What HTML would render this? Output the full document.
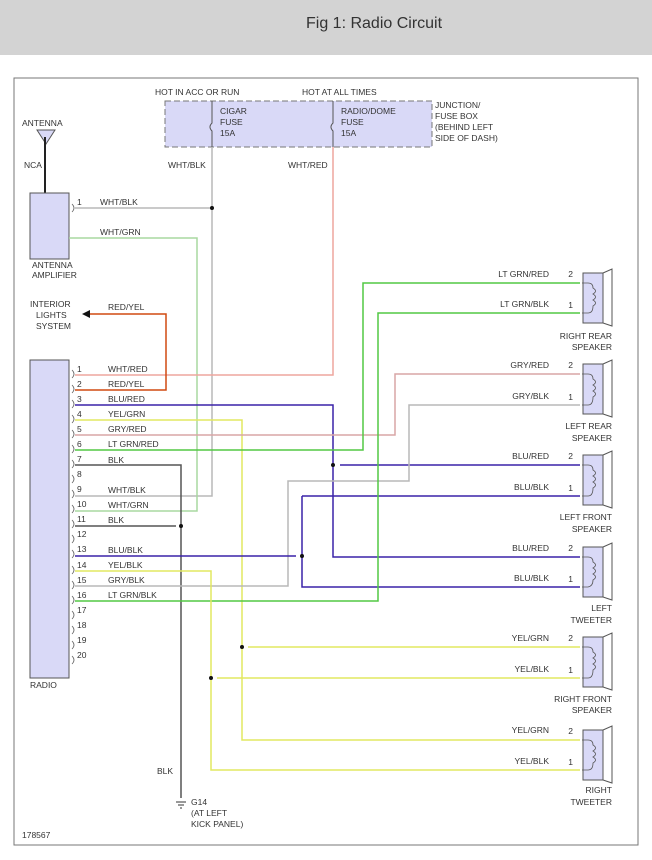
<!DOCTYPE html>
<html><head><meta charset="utf-8"><style>
body{margin:0;background:#fff;width:652px;height:860px;overflow:hidden;font-family:"Liberation Sans",sans-serif}
.hd{position:absolute;left:0;top:0;width:652px;height:55px;background:#d3d3d3}
.hd span{position:absolute;left:306px;top:15px;font-size:16px;color:#333}
svg{position:absolute;left:0;top:0}
text{font-family:"Liberation Sans",sans-serif;font-size:8.5px;fill:#333}
</style></head><body>
<div class="hd"><span>Fig 1: Radio Circuit</span></div>
<svg width="652" height="860" viewBox="0 0 652 860">
<rect x="14" y="78" width="624" height="767" fill="none" stroke="#777" stroke-width="1"/>
<!-- fuse box -->
<rect x="165" y="101" width="267" height="46" fill="#d9d9f7" stroke="#777" stroke-dasharray="6,3"/>
<text x="155" y="95">HOT IN ACC OR RUN</text><text x="302" y="95">HOT AT ALL TIMES</text>
<text x="220" y="114">CIGAR</text><text x="220" y="125">FUSE</text><text x="220" y="136">15A</text>
<text x="341" y="114">RADIO/DOME</text><text x="341" y="125">FUSE</text><text x="341" y="136">15A</text>
<text x="435" y="108">JUNCTION/</text><text x="435" y="119">FUSE BOX</text><text x="435" y="130">(BEHIND LEFT</text><text x="435" y="141">SIDE OF DASH)</text>
<g fill="none" stroke="#555"><path d="M212 101v22q-4 4 0 8v16"/><path d="M333 101v22q-4 4 0 8v16"/></g>
<text x="168" y="168">WHT/BLK</text><text x="288" y="168">WHT/RED</text>
<!-- antenna -->
<text x="22" y="126">ANTENNA</text>
<path d="M37 130h18l-9 14z" fill="#d9d9f7" stroke="#555"/>
<line x1="45" y1="137" x2="45" y2="193" stroke="#222" stroke-width="2"/>
<text x="24" y="168">NCA</text>
<rect x="30" y="193" width="39" height="66" fill="#d9d9f7" stroke="#555"/>
<text x="32" y="268">ANTENNA</text><text x="32" y="278">AMPLIFIER</text>
<text x="77" y="205">1</text>
<text x="100" y="205">WHT/BLK</text><text x="100" y="235">WHT/GRN</text>
<!-- interior lights -->
<text x="30" y="307">INTERIOR</text><text x="36" y="318">LIGHTS</text><text x="36" y="329">SYSTEM</text>
<path d="M82 314l8-4v8z" fill="#111"/>
<text x="108" y="310">RED/YEL</text>
<!-- radio -->
<rect x="30" y="360" width="39" height="318" fill="#d9d9f7" stroke="#555"/>
<text x="30" y="688">RADIO</text>
<g id="pins">
<text x="77" y="372">1</text><text x="77" y="387">2</text><text x="77" y="402">3</text><text x="77" y="417">4</text><text x="77" y="432">5</text><text x="77" y="447">6</text><text x="77" y="462">7</text><text x="77" y="477">8</text><text x="77" y="492">9</text><text x="77" y="507">10</text><text x="77" y="522">11</text><text x="77" y="537">12</text><text x="77" y="552">13</text><text x="77" y="568">14</text><text x="77" y="583">15</text><text x="77" y="598">16</text><text x="77" y="613">17</text><text x="77" y="628">18</text><text x="77" y="643">19</text><text x="77" y="658">20</text>
</g>
<g fill="none" stroke="#666" stroke-width="0.8">
<path d="M72 204q4 4 0 8M72 370q4 4 0 8M72 385q4 4 0 8M72 400q4 4 0 8M72 415q4 4 0 8M72 430q4 4 0 8M72 445q4 4 0 8M72 460q4 4 0 8M72 475q4 4 0 8M72 490q4 4 0 8M72 505q4 4 0 8M72 520q4 4 0 8M72 535q4 4 0 8M72 550q4 4 0 8M72 566q4 4 0 8M72 581q4 4 0 8M72 596q4 4 0 8M72 611q4 4 0 8M72 626q4 4 0 8M72 641q4 4 0 8M72 656q4 4 0 8"/>
</g>
<g>
<text x="108" y="372">WHT/RED</text><text x="108" y="387">RED/YEL</text><text x="108" y="402">BLU/RED</text><text x="108" y="417">YEL/GRN</text><text x="108" y="432">GRY/RED</text><text x="108" y="447">LT GRN/RED</text><text x="108" y="463">BLK</text><text x="108" y="493">WHT/BLK</text><text x="108" y="508">WHT/GRN</text><text x="108" y="523">BLK</text><text x="108" y="553">BLU/BLK</text><text x="108" y="568">YEL/BLK</text><text x="108" y="583">GRY/BLK</text><text x="108" y="598">LT GRN/BLK</text>
</g>
<!-- wires -->
<g fill="none" stroke-width="1.5">
<path d="M212 147V496H75" stroke="#b8b8b8" stroke-dasharray="0"/>
<path d="M75 208H212" stroke="#b8b8b8"/>
<path d="M69 238H197V511H75" stroke="#a8d8a0"/>
<path d="M333 147V375H75" stroke="#eea69e"/>
<path d="M75 390H166V314H90" stroke="#d04a10"/>
<path d="M75 405H333V557H580" stroke="#3a22a8"/>
<path d="M340 465H580" stroke="#3a22a8"/>
<path d="M75 420H242V740H580" stroke="#e2e860"/>
<path d="M248 647H580" stroke="#e2e860"/>
<path d="M75 435H395V374H580" stroke="#d8a6a6"/>
<path d="M75 450H363V283H580" stroke="#52c844"/>
<path d="M75 465H181V798" stroke="#555"/>
<path d="M75 526H176" stroke="#555"/>
<path d="M75 586H288V481H409V405H580" stroke="#b8b8b8"/>
<path d="M75 556H296" stroke="#3a22a8"/>
<path d="M302 496V587H580M302 496H580" stroke="#3a22a8"/>
<path d="M75 601H378V313H580" stroke="#52c844"/>
<path d="M75 571H211V770H580" stroke="#e2e860"/>
<path d="M217 678H580" stroke="#e2e860"/>
</g>
<g fill="#111"><circle cx="212" cy="208" r="2"/><circle cx="333" cy="465" r="2"/><circle cx="181" cy="526" r="2"/><circle cx="302" cy="556" r="2"/><circle cx="242" cy="647" r="2"/><circle cx="211" cy="678" r="2"/></g>
<!-- ground -->
<text x="157" y="774">BLK</text>
<path d="M176 802h10M178 805h6M180 808h2" stroke="#333"/>
<text x="191" y="805">G14</text><text x="191" y="816">(AT LEFT</text><text x="191" y="827">KICK PANEL)</text>
<text x="22" y="838">178567</text>
<!-- speakers -->
<g id="spk" fill="#d9d9f7" stroke="#555">
<rect x="583" y="273" width="20" height="50"/><path d="M603 273l9-4v57l-9-3z" fill="#fff"/>
<rect x="583" y="364" width="20" height="50"/><path d="M603 364l9-4v57l-9-3z" fill="#fff"/>
<rect x="583" y="455" width="20" height="50"/><path d="M603 455l9-4v57l-9-3z" fill="#fff"/>
<rect x="583" y="547" width="20" height="50"/><path d="M603 547l9-4v57l-9-3z" fill="#fff"/>
<rect x="583" y="637" width="20" height="50"/><path d="M603 637l9-4v57l-9-3z" fill="#fff"/>
<rect x="583" y="730" width="20" height="50"/><path d="M603 730l9-4v57l-9-3z" fill="#fff"/>
</g>
<g fill="none" stroke="#555" stroke-width="0.8">
<path d="M582 283h6q5 0 5 5q5 3 0 6q5 3 0 6q5 3 0 6q0 7-5 7h-6"/>
<path d="M582 374h6q5 0 5 5q5 3 0 6q5 3 0 6q5 3 0 6q0 8-5 8h-6"/>
<path d="M582 465h6q5 0 5 5q5 3 0 6q5 3 0 6q5 3 0 6q0 8-5 8h-6"/>
<path d="M582 557h6q5 0 5 5q5 3 0 6q5 3 0 6q5 3 0 6q0 6-5 7h-6"/>
<path d="M582 647h6q5 0 5 5q5 3 0 6q5 3 0 6q5 3 0 6q0 8-5 8h-6"/>
<path d="M582 740h6q5 0 5 5q5 3 0 6q5 3 0 6q5 3 0 6q0 7-5 7h-6"/>
</g>
<g text-anchor="end">
<text x="549" y="277">LT GRN/RED</text><text x="549" y="307">LT GRN/BLK</text>
<text x="549" y="368">GRY/RED</text><text x="549" y="399">GRY/BLK</text>
<text x="549" y="459">BLU/RED</text><text x="549" y="490">BLU/BLK</text>
<text x="549" y="551">BLU/RED</text><text x="549" y="581">BLU/BLK</text>
<text x="549" y="641">YEL/GRN</text><text x="549" y="672">YEL/BLK</text>
<text x="549" y="733">YEL/GRN</text><text x="549" y="764">YEL/BLK</text>
<text x="573" y="277">2</text><text x="573" y="308">1</text>
<text x="573" y="368">2</text><text x="573" y="400">1</text>
<text x="573" y="459">2</text><text x="573" y="491">1</text>
<text x="573" y="551">2</text><text x="573" y="582">1</text>
<text x="573" y="641">2</text><text x="573" y="673">1</text>
<text x="573" y="734">2</text><text x="573" y="765">1</text>
<text x="612" y="339">RIGHT REAR</text><text x="612" y="350">SPEAKER</text>
<text x="612" y="429">LEFT REAR</text><text x="612" y="441">SPEAKER</text>
<text x="612" y="520">LEFT FRONT</text><text x="612" y="532">SPEAKER</text>
<text x="612" y="611">LEFT</text><text x="612" y="623">TWEETER</text>
<text x="612" y="702">RIGHT FRONT</text><text x="612" y="713">SPEAKER</text>
<text x="612" y="793">RIGHT</text><text x="612" y="805">TWEETER</text>
</g>
</svg>
</body></html>
